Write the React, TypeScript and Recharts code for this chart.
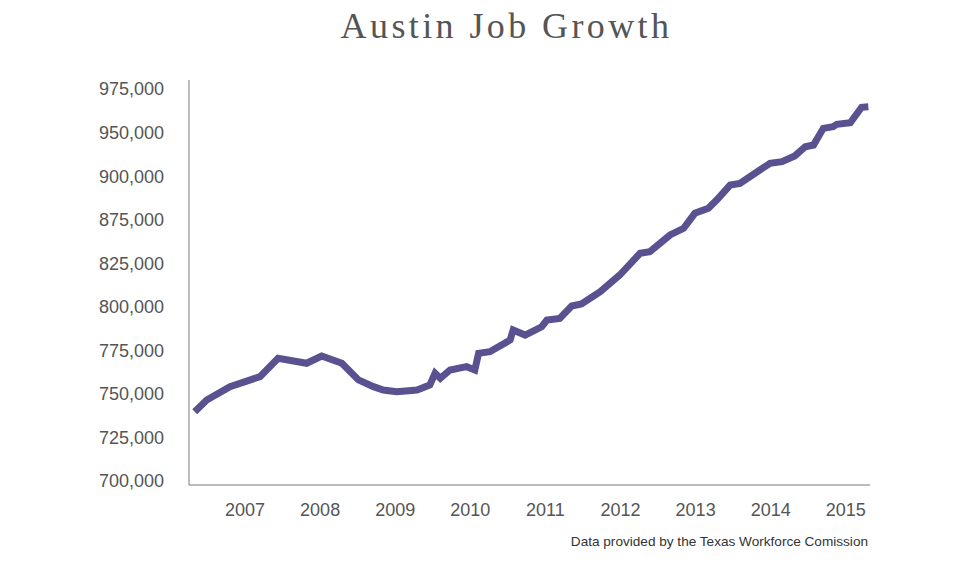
import React from 'react';
import { LineChart, Line, XAxis, YAxis } from 'recharts';

// time in fractional years, jobs count
const months = [
  2006.33, 2006.49, 2006.8, 2007.2, 2007.44, 2007.82, 2008.02, 2008.29, 2008.51, 2008.71,
  2008.84, 2009.02, 2009.29, 2009.46, 2009.53, 2009.6, 2009.73, 2009.95, 2010.06, 2010.11,
  2010.26, 2010.53, 2010.57, 2010.73, 2010.95, 2011.02, 2011.19, 2011.35, 2011.48, 2011.73,
  2011.99, 2012.26, 2012.39, 2012.66, 2012.84, 2012.99, 2013.17, 2013.28, 2013.46, 2013.59,
  2013.99, 2014.15, 2014.32, 2014.46, 2014.57, 2014.7, 2014.83, 2014.88, 2015.06, 2015.21,
  2015.3,
];
const jobs = [
  748600, 756800, 766200, 773200, 786100, 782600, 787700, 782600, 770900, 766200,
  763800, 762600, 763800, 767300, 775600, 772000, 777900, 780200, 777900, 789600,
  790700, 798900, 805900, 802400, 808200, 812900, 814100, 822800, 824200, 832800,
  844500, 859700, 860900, 872600, 877300, 887800, 891300, 897100, 907600, 908800,
  922900, 924000, 928000, 934500, 935700, 947400, 948500, 950200, 951300, 962200,
  962600,
];

const yearTicks = [2007, 2008, 2009, 2010, 2011, 2012, 2013, 2014, 2015];
const yTickLabels = [
  '700,000', '725,000', '750,000', '775,000', '800,000',
  '825,000', '875,000', '900,000', '950,000', '975,000',
];

const data = months.map((t, i) => ({ t, jobs: jobs[i] }));

const Y_MIN = 700000;
const Y_MAX = 975000;
const step = (Y_MAX - Y_MIN) / (yTickLabels.length - 1);
const yTicks = yTickLabels.map((_l, i) => Y_MIN + i * step);

const App: React.FC = () => {
  return (
    <div style={{ position: 'absolute', left: 0, top: 0, width: 963, height: 583, background: '#fff' }}>
      <div
        style={{
          position: 'absolute',
          top: 8,
          left: 0,
          width: 1013,
          textAlign: 'center',
          fontFamily: '"Liberation Serif", serif',
          fontSize: 36,
          lineHeight: '36px',
          letterSpacing: 3.4,
          color: '#555',
        }}
      >
        Austin Job Growth
      </div>
      <LineChart
        width={963}
        height={583}
        data={data}
        margin={{ top: 80, right: 93, bottom: 68, left: 0 }}
      >
        <XAxis
          dataKey="t"
          type="number"
          domain={[2006.254, 2015.322]}
          ticks={yearTicks}
          interval={0}
          height={30}
          tickLine={false}
          tickSize={0}
          tickMargin={18}
          axisLine={{ stroke: '#7a7a7a' }}
          tick={{ fill: '#555', fontSize: 18, fontFamily: '"Liberation Sans", Arial, sans-serif' }}
        />
        <YAxis
          type="number"
          domain={[697194, 981314]}
          ticks={yTicks}
          interval={0}
          width={189}
          tickLine={false}
          tickSize={0}
          tickMargin={25}
          axisLine={{ stroke: '#7a7a7a' }}
          tickFormatter={(v: number) => yTickLabels[Math.round((v - Y_MIN) / step)]}
          tick={{ fill: '#555', fontSize: 18, fontFamily: '"Liberation Sans", Arial, sans-serif' }}
        />
        <Line
          type="linear"
          dataKey="jobs"
          stroke="#595190"
          strokeWidth={7}
          dot={false}
          isAnimationActive={false}
        />
      </LineChart>
      <div
        style={{
          position: 'absolute',
          top: 535,
          right: 95,
          fontFamily: '"Liberation Sans", Arial, sans-serif',
          fontSize: 13.6,
          lineHeight: '13px',
          color: '#333',
          whiteSpace: 'nowrap',
        }}
      >
        Data provided by the Texas Workforce Comission
      </div>
    </div>
  );
};

export default App;
